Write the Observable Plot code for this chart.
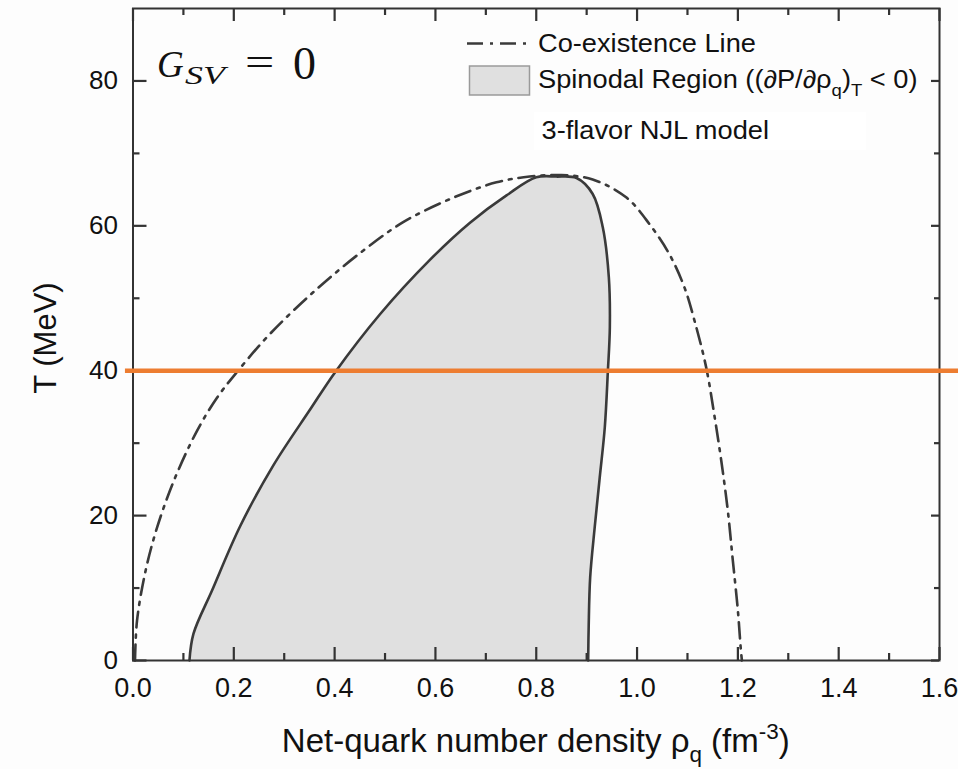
<!DOCTYPE html>
<html>
<head>
<meta charset="utf-8">
<script src="https://cdn.jsdelivr.net/npm/d3@7"></script>
<script src="https://cdn.jsdelivr.net/npm/@observablehq/plot@0.6"></script>
<style>
  body { margin: 0; background: #fdfdfd; }
  #chart svg { display: block; }
</style>
</head>
<body>
<div id="chart"></div>
<script>
// ---- data ----
// spinodal region boundary: left branch (bottom -> top), then right branch (top -> bottom)
const spinLeftRho  = [0.112, 0.120, 0.157, 0.213, 0.279, 0.351, 0.401, 0.490, 0.589, 0.668, 0.741, 0.800, 0.840];
const spinLeftT    = [0.0,   3.7,   9.7,   18.6,  27.0,  34.6,  39.8,  47.8,  55.3,  60.4,  64.2,  66.7,  66.8];
const spinRightRho = [0.880, 0.912, 0.932, 0.944, 0.946, 0.942, 0.936, 0.926, 0.916, 0.907, 0.904, 0.903];
const spinRightT   = [66.6,  64.4,  59.8,  52.9,  46.0,  39.8,  32.2,  25.3,  18.4,  11.5,  4.6,   0.0];

// co-existence line
const coexRho = [0.004, 0.008, 0.025, 0.048, 0.081, 0.127, 0.167, 0.206, 0.272, 0.365, 0.457, 0.536, 0.629, 0.721, 0.787, 0.850, 0.912, 0.979, 1.025, 1.064, 1.094, 1.114, 1.137, 1.153, 1.167, 1.180, 1.190, 1.200, 1.206, 1.208];
const coexT   = [0.0,   5.5,   12.4,  18.4,  24.8,  31.7,  36.3,  39.8,  45.1,  51.3,  56.6,  60.5,  63.7,  66.0,  66.8,  67.0,  66.4,  63.9,  60.2,  56.1,  51.5,  46.9,  40.5,  34.0,  27.6,  20.7,  13.8,  6.9,   1.4,   0.0];

// highlighted isotherm
const cutT = [40];

// axes
const xDomain = [0, 1.6];
const yDomain = [0, 90];
const xMajor = [0, 0.2, 0.4, 0.6, 0.8, 1.0, 1.2, 1.4, 1.6];
const xTickLabels = ["0.0", "0.2", "0.4", "0.6", "0.8", "1.0", "1.2", "1.4", "1.6"];
const xMinor = [0.1, 0.3, 0.5, 0.7, 0.9, 1.1, 1.3, 1.5];
const yMajor = [0, 20, 40, 60, 80];
const yTickLabels = ["0", "20", "40", "60", "80"];
const yMinor = [10, 30, 50, 70];

// ---- build ----
const spinodal = spinLeftRho.map((r, i) => ({rho: r, T: spinLeftT[i]}))
  .concat(spinRightRho.map((r, i) => ({rho: r, T: spinRightT[i]})));
const coex = coexRho.map((r, i) => ({rho: r, T: coexT[i]}));

const ink = "#3a3a3a";
const frameInk = "#333";
const sans = "'Liberation Sans', Arial, Helvetica, sans-serif";
const serif = "'Liberation Serif', 'Times New Roman', serif";

const W = 958, H = 769, mL = 132.5, mR = 19, mT = 8, mB = 109;
const fw = W - mL - mR, fh = H - mT - mB;

const xLab = new Map(xMajor.map((v, i) => [v, xTickLabels[i]]));
const yLab = new Map(yMajor.map((v, i) => [v, yTickLabels[i]]));

// inward ticks: frame-spanning rules inset down to the tick length
const tk = {stroke: frameInk, strokeWidth: 2.2};
const ticksBottom = (t, s) => Plot.ruleX(t, {insetTop: fh - s, ...tk});
const ticksTop    = (t, s) => Plot.ruleX(t, {insetBottom: fh - s, ...tk});
const ticksLeft   = (t, s) => Plot.ruleY(t, {insetRight: fw - s, ...tk});
const ticksRight  = (t, s) => Plot.ruleY(t, {insetLeft: fw - s, ...tk});

const chart = Plot.plot({
  width: W,
  height: H,
  marginLeft: mL,
  marginRight: mR,
  marginTop: mT,
  marginBottom: mB,
  x: {domain: xDomain},
  y: {domain: yDomain},
  style: {fontFamily: sans, background: "#fdfdfd", color: "#111", overflow: "visible"},
  marks: [
    // spinodal region
    Plot.line(spinodal, {x: "rho", y: "T", fill: "#e0e0e0", stroke: ink, strokeWidth: 2.6, curve: "catmull-rom"}),
    // co-existence line
    Plot.line(coex, {x: "rho", y: "T", stroke: ink, strokeWidth: 2.6, strokeDasharray: "16,7,3,7", curve: "catmull-rom"}),
    // inward ticks
    ticksBottom(xMajor, 13), ticksBottom(xMinor, 7),
    ticksTop(xMajor, 13),    ticksTop(xMinor, 7),
    ticksLeft(yMajor, 14),   ticksLeft(yMinor, 7),
    ticksRight(yMajor, 8),   ticksRight(yMinor, 5),
    // tick labels
    Plot.axisX(xMajor, {anchor: "bottom", tickSize: 0, tickPadding: 17, fontSize: 27, tickFormat: d => xLab.get(d), label: null, fill: "#111"}),
    Plot.axisY(yMajor, {anchor: "left", tickSize: 0, tickPadding: 15, fontSize: 26, tickFormat: d => yLab.get(d), label: null, fill: "#111"}),
    Plot.frame({stroke: frameInk, strokeWidth: 2}),
    // T = 40 MeV isotherm
    Plot.ruleY(cutT, {x1: -0.015, x2: 1.64, stroke: "#ED7D31", strokeWidth: 4.5})
  ]
});

document.getElementById("chart").appendChild(chart);
const svg = d3.select(chart);

// rich text helper
function rich(parent, {x, y, size, family = sans, anchor = "start", sx = 1, rotate = 0, style = "normal", parts, fill = "#111"}) {
  const g = parent.append("g").attr("transform", `translate(${x},${y}) rotate(${rotate}) scale(${sx},1)`);
  const t = g.append("text")
    .attr("font-size", size).attr("font-family", family).attr("font-style", style)
    .attr("text-anchor", anchor).attr("fill", fill);
  let shift = 0;
  for (const p of parts) {
    const ts = t.append("tspan").text(p.t);
    let target = 0, fs = size;
    if (p.sub) { target = size * 0.30; fs = size * 0.68; }
    if (p.sup) { target = -size * 0.40; fs = size * 0.68; }
    if (target !== shift) { ts.attr("dy", target - shift); shift = target; }
    ts.attr("font-size", fs);
  }
  return t;
}

// axis titles
rich(svg, {x: 535.75, y: 752, size: 33, anchor: "middle", parts: [
  {t: "Net-quark number density ρ"}, {t: "q", sub: true}, {t: " (fm"}, {t: "-3", sup: true}, {t: ")"}
]});
rich(svg, {x: 56, y: 338, size: 31, anchor: "middle", rotate: -90, parts: [{t: "T (MeV)"}]});

// G_SV = 0 annotation
rich(svg, {x: 157, y: 77, size: 37, family: serif, style: "italic", parts: [{t: "G"}]});
rich(svg, {x: 185, y: 84, size: 26, family: serif, style: "italic", sx: 1.38, parts: [{t: "SV"}]});
rich(svg, {x: 245, y: 76, size: 40, family: serif, sx: 1.3, parts: [{t: "="}]});
rich(svg, {x: 293, y: 79, size: 46, family: serif, parts: [{t: "0"}]});

// legend
svg.append("line").attr("x1", 467).attr("x2", 531).attr("y1", 43.5).attr("y2", 43.5)
  .attr("stroke", ink).attr("stroke-width", 2.6).attr("stroke-dasharray", "16,7,3,7");
svg.append("rect").attr("x", 469.5).attr("y", 66).attr("width", 60).attr("height", 29)
  .attr("fill", "#e0e0e0").attr("stroke", "#9a9a9a").attr("stroke-width", 1.5);
rich(svg, {x: 538, y: 52, size: 25, sx: 1.09, parts: [{t: "Co-existence Line"}]});
rich(svg, {x: 538, y: 88, size: 25, sx: 1.09, parts: [
  {t: "Spinodal Region ((∂P/∂ρ"}, {t: "q", sub: true}, {t: ")"}, {t: "T", sub: true}, {t: " < 0)"}
]});
svg.append("rect").attr("x", 534).attr("y", 112).attr("width", 332).attr("height", 38).attr("fill", "#ffffff");
rich(svg, {x: 541.5, y: 139, size: 25, sx: 1.09, parts: [{t: "3-flavor NJL model"}]});
</script>
</body>
</html>
